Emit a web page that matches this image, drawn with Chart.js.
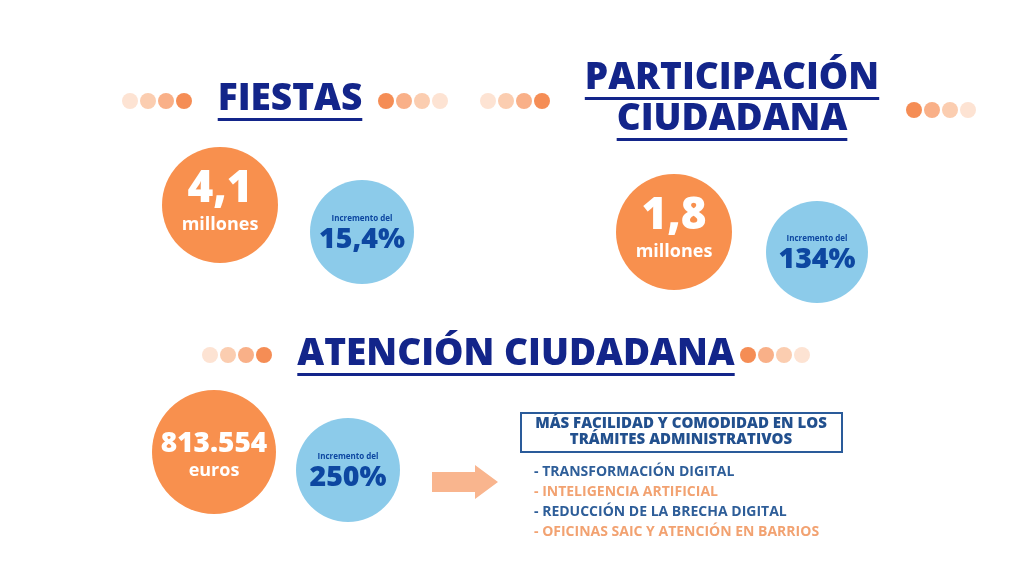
<!DOCTYPE html>
<html><head><meta charset="utf-8">
<script src="https://cdn.jsdelivr.net/npm/chart.js@4/dist/chart.umd.min.js"></script>
<style>html,body{margin:0;background:#fff}#c{display:block}</style>
</head><body>
<div style="width:1024px;height:576px"><canvas id="c"></canvas></div>
<script>
// data
const sections = ["FIESTAS", "PARTICIPACIÓN CIUDADANA", "ATENCIÓN CIUDADANA"];
const mainValues = ["4,1", "1,8", "813.554"];
const mainUnits = ["millones", "millones", "euros"];
const increments = ["15,4%", "134%", "250%"];
const boxTitle = ["MÁS FACILIDAD Y COMODIDAD EN LOS", "TRÁMITES ADMINISTRATIVOS"];
const bullets = ["- TRANSFORMACIÓN DIGITAL", "- INTELIGENCIA ARTIFICIAL", "- REDUCCIÓN DE LA BRECHA DIGITAL", "- OFICINAS SAIC Y ATENCIÓN EN BARRIOS"];

// layout
const orangeC = [[220, 205, 58], [674, 232, 58], [214, 452, 62]];
const blueC = [[362, 232, 52], [817, 252, 51], [348, 470, 52]];
const dotRows = [[130, 101, 1], [386, 101, -1], [488, 101, 1], [914, 110, -1], [210, 355, 1], [748, 355, -1]];
const dotShades = ["#fde3d3", "#fbcdb0", "#f9b088", "#f58d55"];
const NAVY = "#13258a", ORANGE = "#f8904e", BLUE = "#8ccbea", DBLUE = "#0d47a1";

const dots = [], dotCols = [];
dotRows.forEach(([x, y, d]) => {
  for (let i = 0; i < 4; i++) {
    dots.push({x: x + i * 18, y, r: 8});
    dotCols.push(dotShades[d > 0 ? i : 3 - i]);
  }
});

const textPlugin = {
  id: "texts",
  afterDatasetsDraw(chart) {
    const ctx = chart.ctx, X = v => chart.scales.x.getPixelForValue(v), Y = v => chart.scales.y.getPixelForValue(v);
    ctx.save();
    ctx.textAlign = "center"; ctx.textBaseline = "middle";
    const title = (t, x, y) => {
      ctx.font = "800 37px 'Open Sans'"; ctx.fillStyle = NAVY;
      ctx.fillText(t, X(x), Y(y));
      const w = ctx.measureText(t).width;
      ctx.fillRect(X(x) - w / 2, Y(y) + 19, w, 3);
    };
    title(sections[0], 290, 99);
    title("PARTICIPACIÓN", 732, 78);
    title("CIUDADANA", 732, 119);
    title(sections[2], 516, 354);
    // main values
    const mainSize = [44, 44, 28];
    orangeC.forEach(([x, y], i) => {
      ctx.fillStyle = "#fff";
      ctx.font = `800 ${mainSize[i]}px 'Open Sans'`;
      ctx.fillText(mainValues[i], X(x), Y(y - (i < 2 ? 16 : 8)));
      ctx.font = "700 18px 'Open Sans'";
      ctx.fillText(mainUnits[i], X(x), Y(y + (i < 2 ? 20 : 19)));
    });
    blueC.forEach(([x, y], i) => {
      ctx.fillStyle = DBLUE;
      ctx.font = "700 8px 'Open Sans'";
      ctx.fillText("Incremento del", X(x), Y(y - 13));
      ctx.font = "800 28.5px 'Open Sans'";
      ctx.fillText(increments[i], X(x), Y(y + 8));
    });
    // arrow
    ctx.fillStyle = "#f9b58e";
    ctx.beginPath();
    ctx.moveTo(X(432), Y(472)); ctx.lineTo(X(475), Y(472)); ctx.lineTo(X(475), Y(465));
    ctx.lineTo(X(498), Y(482)); ctx.lineTo(X(475), Y(499)); ctx.lineTo(X(475), Y(492));
    ctx.lineTo(X(432), Y(492)); ctx.closePath(); ctx.fill();
    // box
    ctx.strokeStyle = "#2a5b9a"; ctx.lineWidth = 2;
    ctx.strokeRect(X(521), Y(413), 321, 39);
    ctx.fillStyle = "#22508e"; ctx.font = "800 15px 'Open Sans'";
    ctx.fillText(boxTitle[0], X(681), Y(424));
    ctx.fillText(boxTitle[1], X(681), Y(440));
    ctx.textAlign = "left"; ctx.font = "bold 14px 'Open Sans'";
    bullets.forEach((b, i) => {
      ctx.fillStyle = i % 2 ? "#f2a271" : "#2e5e99";
      ctx.fillText(b, X(534), Y(472 + i * 20));
    });
    ctx.restore();
  }
};

new Chart(document.getElementById("c"), {
  type: "bubble",
  data: {datasets: [
    {data: orangeC.map(([x, y, r]) => ({x, y, r})), backgroundColor: ORANGE, borderWidth: 0},
    {data: blueC.map(([x, y, r]) => ({x, y, r})), backgroundColor: BLUE, borderWidth: 0},
    {data: dots, backgroundColor: dotCols, borderWidth: 0}
  ]},
  options: {
    responsive: true, maintainAspectRatio: false, animation: false,
    layout: {padding: 0, autoPadding: false},
    plugins: {legend: {display: false}, tooltip: {enabled: false}},
    scales: {
      x: {type: "linear", min: 0, max: 1024, display: false},
      y: {type: "linear", min: 0, max: 576, reverse: true, display: false}
    }
  },
  plugins: [textPlugin]
});
</script>
</body></html>
